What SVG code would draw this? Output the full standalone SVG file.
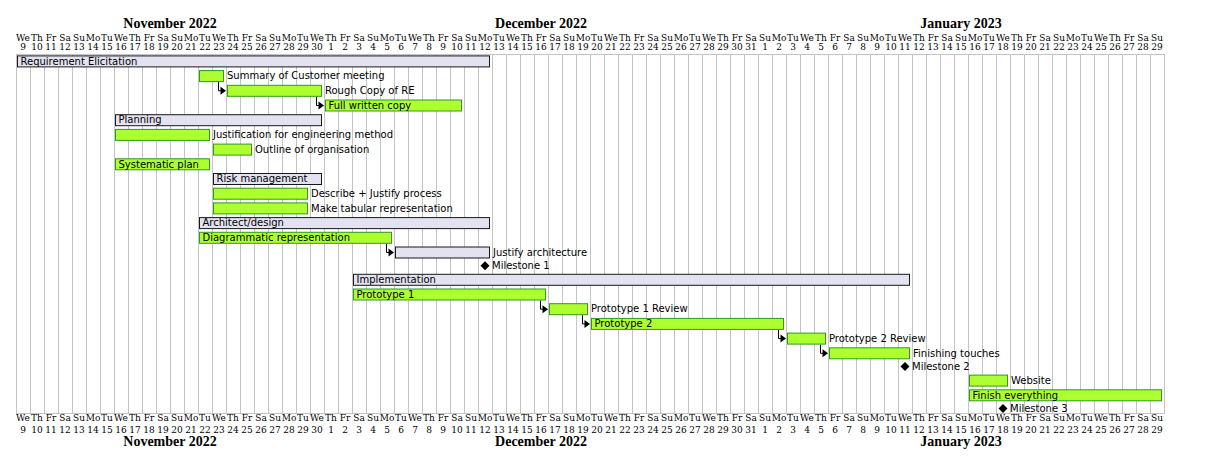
<svg xmlns="http://www.w3.org/2000/svg" width="1208" height="459" viewBox="0 0 1208 459">
<style>
.month{font-family:"Liberation Serif",serif;font-weight:bold;font-size:14px;fill:#000;text-anchor:middle}
.dh{font-family:"DejaVu Serif",serif;font-size:9px;fill:#000;text-anchor:middle}
.lbl{font-family:"DejaVu Sans",sans-serif;font-size:10px;fill:#000}
.grp{fill:#E2E2F0;stroke:#181818;stroke-width:1}
.tsk{fill:#ADFF2F;stroke:#2E9A1E;stroke-width:1}
.grid{stroke:#C4C4C4;stroke-width:1;fill:none}
.conn{stroke:#000;stroke-width:1;fill:none}
.ah{fill:#000}
.ms{fill:#000}
</style>
<rect width="1208" height="459" fill="#fff"/>
<g id="grid">
<path class="grid" d="M16.5 54V414M30.5 54V414M44.5 54V414M58.5 54V414M72.5 54V414M86.5 54V414M100.5 54V414M114.5 54V414M128.5 54V414M142.5 54V414M156.5 54V414M170.5 54V414M184.5 54V414M198.5 54V414M212.5 54V414M226.5 54V414M240.5 54V414M254.5 54V414M268.5 54V414M282.5 54V414M296.5 54V414M310.5 54V414M324.5 54V414M338.5 54V414M352.5 54V414M366.5 54V414M380.5 54V414M394.5 54V414M408.5 54V414M422.5 54V414M436.5 54V414M450.5 54V414M464.5 54V414M478.5 54V414M492.5 54V414M506.5 54V414M520.5 54V414M534.5 54V414M548.5 54V414M562.5 54V414M576.5 54V414M590.5 54V414M604.5 54V414M618.5 54V414M632.5 54V414M646.5 54V414M660.5 54V414M674.5 54V414M688.5 54V414M702.5 54V414M716.5 54V414M730.5 54V414M744.5 54V414M758.5 54V414M772.5 54V414M786.5 54V414M800.5 54V414M814.5 54V414M828.5 54V414M842.5 54V414M856.5 54V414M870.5 54V414M884.5 54V414M898.5 54V414M912.5 54V414M926.5 54V414M940.5 54V414M954.5 54V414M968.5 54V414M982.5 54V414M996.5 54V414M1010.5 54V414M1024.5 54V414M1038.5 54V414M1052.5 54V414M1066.5 54V414M1080.5 54V414M1094.5 54V414M1108.5 54V414M1122.5 54V414M1136.5 54V414M1150.5 54V414M1164.5 54V414M16 54.5H1165M16 413.5H1165"/>
</g>
<g id="header-top">
<text class="month" x="170" y="28">November 2022</text>
<text class="month" x="541" y="28">December 2022</text>
<text class="month" x="961" y="28">January 2023</text>
<text class="dh" y="40.5"><tspan x="23">We</tspan><tspan x="37">Th</tspan><tspan x="51">Fr</tspan><tspan x="65">Sa</tspan><tspan x="79">Su</tspan><tspan x="93">Mo</tspan><tspan x="107">Tu</tspan><tspan x="121">We</tspan><tspan x="135">Th</tspan><tspan x="149">Fr</tspan><tspan x="163">Sa</tspan><tspan x="177">Su</tspan><tspan x="191">Mo</tspan><tspan x="205">Tu</tspan><tspan x="219">We</tspan><tspan x="233">Th</tspan><tspan x="247">Fr</tspan><tspan x="261">Sa</tspan><tspan x="275">Su</tspan><tspan x="289">Mo</tspan><tspan x="303">Tu</tspan><tspan x="317">We</tspan><tspan x="331">Th</tspan><tspan x="345">Fr</tspan><tspan x="359">Sa</tspan><tspan x="373">Su</tspan><tspan x="387">Mo</tspan><tspan x="401">Tu</tspan><tspan x="415">We</tspan><tspan x="429">Th</tspan><tspan x="443">Fr</tspan><tspan x="457">Sa</tspan><tspan x="471">Su</tspan><tspan x="485">Mo</tspan><tspan x="499">Tu</tspan><tspan x="513">We</tspan><tspan x="527">Th</tspan><tspan x="541">Fr</tspan><tspan x="555">Sa</tspan><tspan x="569">Su</tspan><tspan x="583">Mo</tspan><tspan x="597">Tu</tspan><tspan x="611">We</tspan><tspan x="625">Th</tspan><tspan x="639">Fr</tspan><tspan x="653">Sa</tspan><tspan x="667">Su</tspan><tspan x="681">Mo</tspan><tspan x="695">Tu</tspan><tspan x="709">We</tspan><tspan x="723">Th</tspan><tspan x="737">Fr</tspan><tspan x="751">Sa</tspan><tspan x="765">Su</tspan><tspan x="779">Mo</tspan><tspan x="793">Tu</tspan><tspan x="807">We</tspan><tspan x="821">Th</tspan><tspan x="835">Fr</tspan><tspan x="849">Sa</tspan><tspan x="863">Su</tspan><tspan x="877">Mo</tspan><tspan x="891">Tu</tspan><tspan x="905">We</tspan><tspan x="919">Th</tspan><tspan x="933">Fr</tspan><tspan x="947">Sa</tspan><tspan x="961">Su</tspan><tspan x="975">Mo</tspan><tspan x="989">Tu</tspan><tspan x="1003">We</tspan><tspan x="1017">Th</tspan><tspan x="1031">Fr</tspan><tspan x="1045">Sa</tspan><tspan x="1059">Su</tspan><tspan x="1073">Mo</tspan><tspan x="1087">Tu</tspan><tspan x="1101">We</tspan><tspan x="1115">Th</tspan><tspan x="1129">Fr</tspan><tspan x="1143">Sa</tspan><tspan x="1157">Su</tspan></text>
<text class="dh" y="49.5"><tspan x="23">9</tspan><tspan x="37">10</tspan><tspan x="51">11</tspan><tspan x="65">12</tspan><tspan x="79">13</tspan><tspan x="93">14</tspan><tspan x="107">15</tspan><tspan x="121">16</tspan><tspan x="135">17</tspan><tspan x="149">18</tspan><tspan x="163">19</tspan><tspan x="177">20</tspan><tspan x="191">21</tspan><tspan x="205">22</tspan><tspan x="219">23</tspan><tspan x="233">24</tspan><tspan x="247">25</tspan><tspan x="261">26</tspan><tspan x="275">27</tspan><tspan x="289">28</tspan><tspan x="303">29</tspan><tspan x="317">30</tspan><tspan x="331">1</tspan><tspan x="345">2</tspan><tspan x="359">3</tspan><tspan x="373">4</tspan><tspan x="387">5</tspan><tspan x="401">6</tspan><tspan x="415">7</tspan><tspan x="429">8</tspan><tspan x="443">9</tspan><tspan x="457">10</tspan><tspan x="471">11</tspan><tspan x="485">12</tspan><tspan x="499">13</tspan><tspan x="513">14</tspan><tspan x="527">15</tspan><tspan x="541">16</tspan><tspan x="555">17</tspan><tspan x="569">18</tspan><tspan x="583">19</tspan><tspan x="597">20</tspan><tspan x="611">21</tspan><tspan x="625">22</tspan><tspan x="639">23</tspan><tspan x="653">24</tspan><tspan x="667">25</tspan><tspan x="681">26</tspan><tspan x="695">27</tspan><tspan x="709">28</tspan><tspan x="723">29</tspan><tspan x="737">30</tspan><tspan x="751">31</tspan><tspan x="765">1</tspan><tspan x="779">2</tspan><tspan x="793">3</tspan><tspan x="807">4</tspan><tspan x="821">5</tspan><tspan x="835">6</tspan><tspan x="849">7</tspan><tspan x="863">8</tspan><tspan x="877">9</tspan><tspan x="891">10</tspan><tspan x="905">11</tspan><tspan x="919">12</tspan><tspan x="933">13</tspan><tspan x="947">14</tspan><tspan x="961">15</tspan><tspan x="975">16</tspan><tspan x="989">17</tspan><tspan x="1003">18</tspan><tspan x="1017">19</tspan><tspan x="1031">20</tspan><tspan x="1045">21</tspan><tspan x="1059">22</tspan><tspan x="1073">23</tspan><tspan x="1087">24</tspan><tspan x="1101">25</tspan><tspan x="1115">26</tspan><tspan x="1129">27</tspan><tspan x="1143">28</tspan><tspan x="1157">29</tspan></text>
</g>
<g id="header-bottom">
<text class="dh" y="421"><tspan x="23">We</tspan><tspan x="37">Th</tspan><tspan x="51">Fr</tspan><tspan x="65">Sa</tspan><tspan x="79">Su</tspan><tspan x="93">Mo</tspan><tspan x="107">Tu</tspan><tspan x="121">We</tspan><tspan x="135">Th</tspan><tspan x="149">Fr</tspan><tspan x="163">Sa</tspan><tspan x="177">Su</tspan><tspan x="191">Mo</tspan><tspan x="205">Tu</tspan><tspan x="219">We</tspan><tspan x="233">Th</tspan><tspan x="247">Fr</tspan><tspan x="261">Sa</tspan><tspan x="275">Su</tspan><tspan x="289">Mo</tspan><tspan x="303">Tu</tspan><tspan x="317">We</tspan><tspan x="331">Th</tspan><tspan x="345">Fr</tspan><tspan x="359">Sa</tspan><tspan x="373">Su</tspan><tspan x="387">Mo</tspan><tspan x="401">Tu</tspan><tspan x="415">We</tspan><tspan x="429">Th</tspan><tspan x="443">Fr</tspan><tspan x="457">Sa</tspan><tspan x="471">Su</tspan><tspan x="485">Mo</tspan><tspan x="499">Tu</tspan><tspan x="513">We</tspan><tspan x="527">Th</tspan><tspan x="541">Fr</tspan><tspan x="555">Sa</tspan><tspan x="569">Su</tspan><tspan x="583">Mo</tspan><tspan x="597">Tu</tspan><tspan x="611">We</tspan><tspan x="625">Th</tspan><tspan x="639">Fr</tspan><tspan x="653">Sa</tspan><tspan x="667">Su</tspan><tspan x="681">Mo</tspan><tspan x="695">Tu</tspan><tspan x="709">We</tspan><tspan x="723">Th</tspan><tspan x="737">Fr</tspan><tspan x="751">Sa</tspan><tspan x="765">Su</tspan><tspan x="779">Mo</tspan><tspan x="793">Tu</tspan><tspan x="807">We</tspan><tspan x="821">Th</tspan><tspan x="835">Fr</tspan><tspan x="849">Sa</tspan><tspan x="863">Su</tspan><tspan x="877">Mo</tspan><tspan x="891">Tu</tspan><tspan x="905">We</tspan><tspan x="919">Th</tspan><tspan x="933">Fr</tspan><tspan x="947">Sa</tspan><tspan x="961">Su</tspan><tspan x="975">Mo</tspan><tspan x="989">Tu</tspan><tspan x="1003">We</tspan><tspan x="1017">Th</tspan><tspan x="1031">Fr</tspan><tspan x="1045">Sa</tspan><tspan x="1059">Su</tspan><tspan x="1073">Mo</tspan><tspan x="1087">Tu</tspan><tspan x="1101">We</tspan><tspan x="1115">Th</tspan><tspan x="1129">Fr</tspan><tspan x="1143">Sa</tspan><tspan x="1157">Su</tspan></text>
<text class="dh" y="432.7"><tspan x="23">9</tspan><tspan x="37">10</tspan><tspan x="51">11</tspan><tspan x="65">12</tspan><tspan x="79">13</tspan><tspan x="93">14</tspan><tspan x="107">15</tspan><tspan x="121">16</tspan><tspan x="135">17</tspan><tspan x="149">18</tspan><tspan x="163">19</tspan><tspan x="177">20</tspan><tspan x="191">21</tspan><tspan x="205">22</tspan><tspan x="219">23</tspan><tspan x="233">24</tspan><tspan x="247">25</tspan><tspan x="261">26</tspan><tspan x="275">27</tspan><tspan x="289">28</tspan><tspan x="303">29</tspan><tspan x="317">30</tspan><tspan x="331">1</tspan><tspan x="345">2</tspan><tspan x="359">3</tspan><tspan x="373">4</tspan><tspan x="387">5</tspan><tspan x="401">6</tspan><tspan x="415">7</tspan><tspan x="429">8</tspan><tspan x="443">9</tspan><tspan x="457">10</tspan><tspan x="471">11</tspan><tspan x="485">12</tspan><tspan x="499">13</tspan><tspan x="513">14</tspan><tspan x="527">15</tspan><tspan x="541">16</tspan><tspan x="555">17</tspan><tspan x="569">18</tspan><tspan x="583">19</tspan><tspan x="597">20</tspan><tspan x="611">21</tspan><tspan x="625">22</tspan><tspan x="639">23</tspan><tspan x="653">24</tspan><tspan x="667">25</tspan><tspan x="681">26</tspan><tspan x="695">27</tspan><tspan x="709">28</tspan><tspan x="723">29</tspan><tspan x="737">30</tspan><tspan x="751">31</tspan><tspan x="765">1</tspan><tspan x="779">2</tspan><tspan x="793">3</tspan><tspan x="807">4</tspan><tspan x="821">5</tspan><tspan x="835">6</tspan><tspan x="849">7</tspan><tspan x="863">8</tspan><tspan x="877">9</tspan><tspan x="891">10</tspan><tspan x="905">11</tspan><tspan x="919">12</tspan><tspan x="933">13</tspan><tspan x="947">14</tspan><tspan x="961">15</tspan><tspan x="975">16</tspan><tspan x="989">17</tspan><tspan x="1003">18</tspan><tspan x="1017">19</tspan><tspan x="1031">20</tspan><tspan x="1045">21</tspan><tspan x="1059">22</tspan><tspan x="1073">23</tspan><tspan x="1087">24</tspan><tspan x="1101">25</tspan><tspan x="1115">26</tspan><tspan x="1129">27</tspan><tspan x="1143">28</tspan><tspan x="1157">29</tspan></text>
<text class="month" x="170" y="446">November 2022</text>
<text class="month" x="541" y="446">December 2022</text>
<text class="month" x="961" y="446">January 2023</text>
</g>
<g id="connectors">
<path class="conn" d="M218.5 82.1V90.8H221"/><polygon class="ah" points="220.5,86.8 226,90.8 220.5,94.8"/>
<path class="conn" d="M316.5 96.8V105.5H319"/><polygon class="ah" points="318.5,101.5 324,105.5 318.5,109.5"/>
<path class="conn" d="M386.5 243.8V252.5H389"/><polygon class="ah" points="388.5,248.5 394,252.5 388.5,256.5"/>
<path class="conn" d="M540.5 300.5V309.2H543"/><polygon class="ah" points="542.5,305.2 548,309.2 542.5,313.2"/>
<path class="conn" d="M582.5 315.2V323.9H585"/><polygon class="ah" points="584.5,319.9 590,323.9 584.5,327.9"/>
<path class="conn" d="M778.5 329.9V338.6H781"/><polygon class="ah" points="780.5,334.6 786,338.6 780.5,342.6"/>
<path class="conn" d="M820.5 344.6V353.3H823"/><polygon class="ah" points="822.5,349.3 828,353.3 822.5,357.3"/>
</g>
<g id="t-req"><rect class="grp" x="17.5" y="55.9" width="472" height="11"/><text class="lbl" x="20.5" y="64.6">Requirement Elicitation</text></g>
<g id="t-summary"><rect class="tsk" x="199.5" y="70.6" width="24" height="11"/><text class="lbl" x="227" y="79.3">Summary of Customer meeting</text></g>
<g id="t-rough"><rect class="tsk" x="227.5" y="85.3" width="94" height="11"/><text class="lbl" x="325" y="94">Rough Copy of RE</text></g>
<g id="t-full"><rect class="tsk" x="325.5" y="100" width="136" height="11"/><text class="lbl" x="328.5" y="108.7">Full written copy</text></g>
<g id="t-planning"><rect class="grp" x="115.5" y="114.7" width="206" height="11"/><text class="lbl" x="118.5" y="123.4">Planning</text></g>
<g id="t-justif"><rect class="tsk" x="115.5" y="129.4" width="94" height="11"/><text class="lbl" x="213" y="138.1">Justification for engineering method</text></g>
<g id="t-outline"><rect class="tsk" x="213.5" y="144.1" width="38" height="11"/><text class="lbl" x="255" y="152.8">Outline of organisation</text></g>
<g id="t-systematic"><rect class="tsk" x="115.5" y="158.8" width="94" height="11"/><text class="lbl" x="118.5" y="167.5">Systematic plan</text></g>
<g id="t-risk"><rect class="grp" x="213.5" y="173.5" width="108" height="11"/><text class="lbl" x="216.5" y="182.2">Risk management</text></g>
<g id="t-describe"><rect class="tsk" x="213.5" y="188.2" width="94" height="11"/><text class="lbl" x="311" y="196.9">Describe + Justify process</text></g>
<g id="t-tabular"><rect class="tsk" x="213.5" y="202.9" width="94" height="11"/><text class="lbl" x="311" y="211.6">Make tabular representation</text></g>
<g id="t-arch"><rect class="grp" x="199.5" y="217.6" width="290" height="11"/><text class="lbl" x="202.5" y="226.3">Architect/design</text></g>
<g id="t-diag"><rect class="tsk" x="199.5" y="232.3" width="192" height="11"/><text class="lbl" x="202.5" y="241">Diagrammatic representation</text></g>
<g id="t-justarch"><rect class="grp" x="395.5" y="247" width="94" height="11"/><text class="lbl" x="493" y="255.7">Justify architecture</text></g>
<g id="m1"><polygon class="ms" points="485,261.2 489.5,265.7 485,270.2 480.5,265.7"/><text class="lbl" x="492" y="269.3">Milestone 1</text></g>
<g id="t-impl"><rect class="grp" x="353.5" y="274.3" width="556" height="11"/><text class="lbl" x="356.5" y="283">Implementation</text></g>
<g id="t-proto1"><rect class="tsk" x="353.5" y="289" width="192" height="11"/><text class="lbl" x="356.5" y="297.7">Prototype 1</text></g>
<g id="t-p1rev"><rect class="tsk" x="549.5" y="303.7" width="38" height="11"/><text class="lbl" x="591" y="312.4">Prototype 1 Review</text></g>
<g id="t-proto2"><rect class="tsk" x="591.5" y="318.4" width="192" height="11"/><text class="lbl" x="594.5" y="327.1">Prototype 2</text></g>
<g id="t-p2rev"><rect class="tsk" x="787.5" y="333.1" width="38" height="11"/><text class="lbl" x="829" y="341.8">Prototype 2 Review</text></g>
<g id="t-finishing"><rect class="tsk" x="829.5" y="347.8" width="80" height="11"/><text class="lbl" x="913" y="356.5">Finishing touches</text></g>
<g id="m2"><polygon class="ms" points="905,362 909.5,366.5 905,371 900.5,366.5"/><text class="lbl" x="912" y="370.1">Milestone 2</text></g>
<g id="t-website"><rect class="tsk" x="969.5" y="375.1" width="38" height="11"/><text class="lbl" x="1011" y="383.8">Website</text></g>
<g id="t-finishall"><rect class="tsk" x="969.5" y="389.8" width="192" height="11"/><text class="lbl" x="972.5" y="398.5">Finish everything</text></g>
<g id="m3"><polygon class="ms" points="1003,404 1007.5,408.5 1003,413 998.5,408.5"/><text class="lbl" x="1010" y="412.1">Milestone 3</text></g>
</svg>
